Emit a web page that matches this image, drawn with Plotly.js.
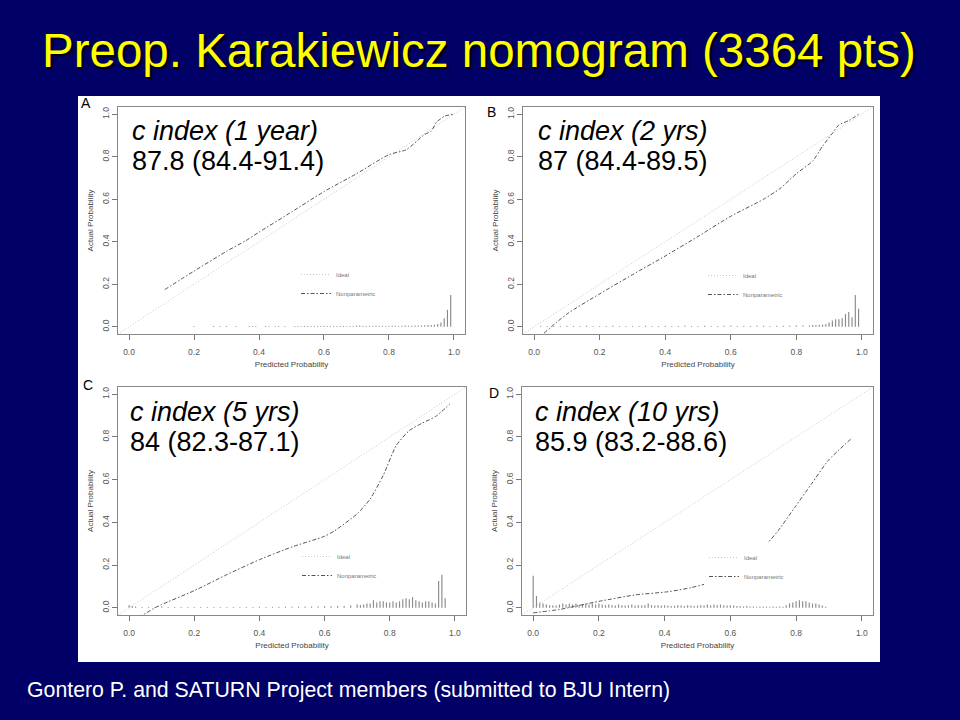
<!DOCTYPE html>
<html>
<head>
<meta charset="utf-8">
<script src="https://cdn.plot.ly/plotly-3.0.1.min.js"></script>
<style>html,body{margin:0;padding:0;background:#000066;}#chart{width:960px;height:720px;}</style>
</head>
<body>
<div id="chart"></div>
<script>
// ---------- data ----------
const slideTitle = "Preop. Karakiewicz nomogram (3364 pts)";
const footerText = "Gontero P. and SATURN Project members (submitted to BJU Intern)";
const panelLetters = ["A", "B", "C", "D"];
const cIndexLabels = ["c index (1 year)", "c index (2 yrs)", "c index (5 yrs)", "c index (10 yrs)"];
const cIndexValues = ["87.8 (84.4-91.4)", "87 (84.4-89.5)", "84 (82.3-87.1)", "85.9 (83.2-88.6)"];
const tickValues = [0, 0.2, 0.4, 0.6, 0.8, 1.0];
const tickLabels = ["0.0", "0.2", "0.4", "0.6", "0.8", "1.0"];
const legendNames = ["Ideal", "Nonparametric"];
const xAxisTitle = "Predicted Probability";
const yAxisTitle = "Actual Probability";

// ideal line (abline 0,1)
const idealLine = [-0.05, 1.05];

// Nonparametric calibration curves
const calA_pred = [0.11, 0.2, 0.3, 0.357, 0.4, 0.5, 0.6, 0.7, 0.8, 0.853, 0.91, 0.93, 0.946, 0.97, 0.997];
const calA_obs  = [0.175, 0.262, 0.355, 0.403, 0.445, 0.54, 0.636, 0.72, 0.81, 0.833, 0.905, 0.92, 0.962, 0.99, 1.0];

const calB_pred = [0.03, 0.1, 0.2, 0.3, 0.4, 0.5, 0.6, 0.7, 0.75, 0.8, 0.85, 0.88, 0.91, 0.93, 0.96, 0.99];
const calB_obs  = [-0.03, 0.06, 0.155, 0.245, 0.333, 0.425, 0.52, 0.6, 0.65, 0.72, 0.78, 0.85, 0.91, 0.95, 0.97, 1.0];

const calC_pred = [0.03, 0.08, 0.1, 0.2, 0.3, 0.4, 0.5, 0.6, 0.63, 0.7, 0.74, 0.78, 0.82, 0.86, 0.9, 0.94, 0.985];
const calC_obs  = [-0.045, 0.0, 0.015, 0.08, 0.155, 0.225, 0.285, 0.335, 0.36, 0.44, 0.51, 0.62, 0.76, 0.83, 0.865, 0.895, 0.955];

const calD_pred = [0.0, 0.08, 0.2, 0.31, 0.41, 0.48, 0.54, 0.58, 0.62, 0.66, 0.7, 0.745, 0.796, 0.847, 0.898, 0.97];
const calD_obs  = [-0.024, -0.008, 0.03, 0.06, 0.075, 0.094, 0.118, 0.144, 0.175, 0.22, 0.28, 0.36, 0.47, 0.58, 0.69, 0.795];

// spike histograms of predicted probabilities
const spikeA_x = [0.20,0.26,0.28,0.30,0.33,0.37,0.38,0.39,0.42,0.43,0.45,0.46,0.48,0.51,0.52,0.53,0.54,0.55,0.56,0.57,0.58,0.59,0.60,0.61,0.62,0.63,0.64,0.65,0.66,0.67,0.68,0.69,0.70,0.71,0.72,0.73,0.74,0.75,0.76,0.77,0.78,0.79,0.80,0.81,0.82,0.83,0.84,0.85,0.86,0.87,0.88,0.89,0.90,0.91,0.92,0.93,0.94,0.95,0.96,0.97,0.98,0.99];
const spikeA_h = [0.004,0.004,0.004,0.004,0.004,0.004,0.004,0.004,0.004,0.004,0.004,0.004,0.004,0.004,0.004,0.004,0.004,0.004,0.004,0.004,0.004,0.004,0.005,0.004,0.004,0.004,0.004,0.004,0.004,0.004,0.004,0.004,0.005,0.006,0.005,0.004,0.005,0.004,0.005,0.004,0.005,0.004,0.005,0.005,0.005,0.004,0.005,0.006,0.005,0.005,0.006,0.006,0.006,0.007,0.008,0.008,0.01,0.0125,0.02,0.04,0.08,0.15];

const spikeB_x = [0.02,0.04,0.06,0.08,0.10,0.12,0.14,0.16,0.18,0.20,0.22,0.24,0.26,0.28,0.30,0.32,0.34,0.36,0.38,0.40,0.42,0.44,0.46,0.48,0.50,0.52,0.54,0.56,0.58,0.60,0.62,0.64,0.66,0.68,0.70,0.72,0.74,0.76,0.78,0.80,0.82,0.84,0.85,0.86,0.87,0.88,0.89,0.90,0.91,0.92,0.93,0.94,0.95,0.96,0.97,0.98,0.99];
const spikeB_h = [0.004,0.004,0.004,0.004,0.005,0.004,0.004,0.005,0.004,0.004,0.004,0.005,0.004,0.004,0.004,0.004,0.005,0.004,0.004,0.005,0.004,0.004,0.005,0.004,0.004,0.005,0.004,0.004,0.005,0.005,0.004,0.005,0.004,0.005,0.005,0.004,0.005,0.005,0.005,0.006,0.006,0.006,0.008,0.008,0.01,0.01,0.012,0.02,0.03,0.035,0.035,0.04,0.06,0.07,0.045,0.15,0.085];

const spikeC_x = [0.00,0.01,0.02,0.04,0.06,0.08,0.10,0.12,0.14,0.16,0.18,0.20,0.22,0.24,0.26,0.28,0.30,0.32,0.34,0.36,0.38,0.40,0.42,0.44,0.46,0.48,0.50,0.52,0.54,0.56,0.58,0.60,0.62,0.64,0.66,0.68,0.70,0.71,0.72,0.73,0.74,0.75,0.76,0.77,0.78,0.79,0.80,0.81,0.82,0.83,0.84,0.85,0.86,0.87,0.88,0.89,0.90,0.91,0.92,0.93,0.94,0.95,0.96,0.97];
const spikeC_h = [0.012,0.008,0.006,0.004,0.004,0.004,0.006,0.004,0.004,0.004,0.004,0.004,0.004,0.004,0.004,0.004,0.004,0.004,0.004,0.004,0.004,0.005,0.004,0.004,0.005,0.005,0.005,0.005,0.006,0.006,0.006,0.007,0.007,0.008,0.008,0.01,0.015,0.012,0.015,0.02,0.02,0.035,0.025,0.03,0.03,0.025,0.025,0.03,0.025,0.03,0.04,0.045,0.04,0.05,0.035,0.03,0.025,0.03,0.03,0.025,0.02,0.125,0.155,0.045];

const spikeD_x = [0.00,0.01,0.02,0.03,0.04,0.05,0.06,0.07,0.08,0.09,0.10,0.11,0.12,0.13,0.14,0.15,0.16,0.17,0.18,0.19,0.20,0.21,0.22,0.23,0.24,0.25,0.26,0.27,0.28,0.29,0.30,0.31,0.32,0.33,0.34,0.35,0.36,0.37,0.38,0.39,0.40,0.41,0.42,0.43,0.44,0.45,0.46,0.47,0.48,0.49,0.50,0.51,0.52,0.53,0.54,0.55,0.56,0.57,0.58,0.59,0.60,0.61,0.62,0.63,0.64,0.65,0.66,0.67,0.68,0.69,0.70,0.71,0.72,0.73,0.74,0.75,0.76,0.77,0.78,0.79,0.80,0.81,0.82,0.83,0.84,0.85,0.86,0.87,0.88,0.89];
const spikeD_h = [0.15,0.055,0.025,0.02,0.015,0.012,0.012,0.01,0.015,0.02,0.015,0.02,0.015,0.02,0.015,0.015,0.02,0.015,0.02,0.015,0.02,0.015,0.012,0.015,0.012,0.01,0.015,0.012,0.01,0.012,0.015,0.01,0.012,0.01,0.012,0.02,0.012,0.01,0.012,0.01,0.012,0.01,0.008,0.01,0.012,0.01,0.008,0.012,0.01,0.008,0.01,0.012,0.01,0.015,0.012,0.015,0.012,0.015,0.012,0.01,0.012,0.01,0.008,0.008,0.006,0.008,0.006,0.006,0.005,0.006,0.006,0.005,0.005,0.006,0.005,0.006,0.005,0.012,0.02,0.025,0.03,0.035,0.03,0.03,0.025,0.02,0.02,0.015,0.01,0.005];

// ---------- layout helpers ----------
const W = 960, H = 720;
const px = v => v / W;
const py = v => 1 - v / H;

const panels = [
  {pred: calA_pred, obs: calA_obs, sx: spikeA_x, sh: spikeA_h, box: [118, 465, 107, 334], legend: [296, 260], legendBg: "rgba(255,255,255,0)", letter: [86, 103], text: [130, 131, 161]},
  {pred: calB_pred, obs: calB_obs, sx: spikeB_x, sh: spikeB_h, box: [523, 873, 107, 334], legend: [703, 261], legendBg: "rgba(255,255,255,0)", letter: [491, 112], text: [536, 131, 161]},
  {pred: calC_pred, obs: calC_obs, sx: spikeC_x, sh: spikeC_h, box: [118, 466, 387, 615], legend: [297, 542], legendBg: "rgba(255,255,255,0)", letter: [88, 385], text: [128, 412, 442]},
  {pred: calD_pred, obs: calD_obs, sx: spikeD_x, sh: spikeD_h, box: [522, 873, 387, 615], legend: [704, 543], legendBg: "#ffffff", letter: [494, 393], text: [533, 412, 442]}
];

const FONT = "Liberation Sans, Arial, sans-serif";
const traces = [];
const layout = {
  width: W, height: H,
  margin: {l: 0, r: 0, t: 0, b: 0},
  paper_bgcolor: "#000066",
  plot_bgcolor: "#ffffff",
  barmode: "overlay",
  showlegend: true,
  shapes: [{type: "rect", xref: "paper", yref: "paper", x0: px(78), x1: px(880), y0: py(662), y1: py(96),
            fillcolor: "#ffffff", line: {width: 0}, layer: "below"}],
  annotations: [
    {text: slideTitle, xref: "paper", yref: "paper", x: px(479), y: py(51), xanchor: "center", yanchor: "middle",
     showarrow: false, font: {family: FONT, size: 47.5, color: "#ffff00", shadow: "2px 2px 2px #000000"}},
    {text: footerText, xref: "paper", yref: "paper", x: px(25), y: py(690), xanchor: "left", yanchor: "middle",
     showarrow: false, font: {family: FONT, size: 21.3, color: "#ffffff"}}
  ]
};

panels.forEach((p, i) => {
  const n = i + 1;
  const xa = n === 1 ? "x" : "x" + n;
  const ya = n === 1 ? "y" : "y" + n;
  const lg = n === 1 ? "legend" : "legend" + n;
  const axCommon = {
    range: [-0.034, 1.034], tickvals: tickValues, ticktext: tickLabels,
    ticks: "outside", ticklen: 5, tickcolor: "#777777", tickwidth: 1,
    tickfont: {family: FONT, size: 8.5, color: "#555555"},
    showline: true, linecolor: "#888888", linewidth: 1, mirror: true,
    showgrid: false, zeroline: false, fixedrange: true
  };
  layout["xaxis" + (n === 1 ? "" : n)] = Object.assign({}, axCommon, {
    domain: [px(p.box[0]), px(p.box[1])], anchor: ya, ticklabelstandoff: 5,
    title: {text: xAxisTitle, font: {family: FONT, size: 8, color: "#444444"}, standoff: 5}
  });
  layout["yaxis" + (n === 1 ? "" : n)] = Object.assign({}, axCommon, {
    domain: [py(p.box[3]), py(p.box[2])], anchor: xa, tickangle: -90, ticklabelstandoff: 0,
    title: {text: yAxisTitle, font: {family: FONT, size: 8, color: "#444444"}, standoff: 5}
  });
  layout[lg] = {
    x: px(p.legend[0]), y: py(p.legend[1]), xanchor: "left", yanchor: "top",
    bgcolor: p.legendBg, borderwidth: 0, itemwidth: 30, tracegroupgap: 0,
    font: {family: FONT, size: 6, color: "#777777"}, traceorder: "normal"
  };
  traces.push({
    type: "bar", x: p.sx, y: p.sh, width: 0.0035, xaxis: xa, yaxis: ya,
    marker: {color: "#8a8a8a", line: {width: 0}}, showlegend: false, hoverinfo: "skip"
  });
  traces.push({
    type: "scatter", mode: "lines", x: idealLine, y: idealLine, xaxis: xa, yaxis: ya,
    name: legendNames[0], legend: lg, line: {color: "#c8c8c8", width: 1, dash: "1px,2px"}
  });
  traces.push({
    type: "scatter", mode: "lines", x: p.pred, y: p.obs, xaxis: xa, yaxis: ya,
    name: legendNames[1], legend: lg, line: {color: "#555555", width: 1, dash: "4px,2px,1.5px,2px", shape: "spline", smoothing: 0.6}
  });
  layout.annotations.push(
    {text: panelLetters[i], xref: "paper", yref: "paper", x: px(p.letter[0]), y: py(p.letter[1]),
     xanchor: "center", yanchor: "middle", showarrow: false, font: {family: FONT, size: 14, color: "#000000"}},
    {text: "<i>" + cIndexLabels[i] + "</i>", xref: "paper", yref: "paper", x: px(p.text[0]), y: py(p.text[1]),
     xanchor: "left", yanchor: "middle", showarrow: false, font: {family: FONT, size: 27, color: "#000000"}},
    {text: cIndexValues[i], xref: "paper", yref: "paper", x: px(p.text[0]), y: py(p.text[2]),
     xanchor: "left", yanchor: "middle", showarrow: false, font: {family: FONT, size: 27, color: "#000000"}}
  );
});

Plotly.newPlot("chart", traces, layout, {displayModeBar: false, staticPlot: true});
</script>
</body>
</html>
